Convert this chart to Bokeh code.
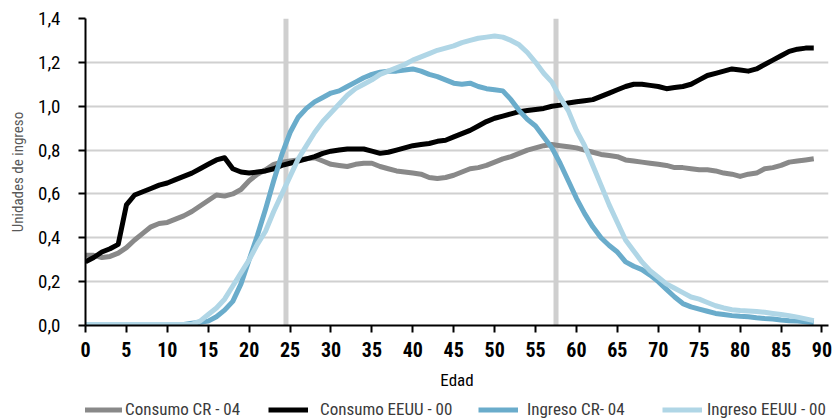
from bokeh.plotting import figure
from bokeh.layouts import column
from bokeh.models import (Range1d, FixedTicker, CustomJSTickFormatter, Span,
                          Legend, LegendItem)
from bokeh.embed import file_html
from bokeh.resources import INLINE

ages = list(range(0, 90))

consumo_cr = [0.32, 0.32, 0.31, 0.315, 0.33, 0.355, 0.39, 0.42, 0.45, 0.465,
              0.47, 0.485, 0.50, 0.52, 0.545, 0.57, 0.595, 0.59, 0.60, 0.62,
              0.66, 0.69, 0.71, 0.735, 0.745, 0.75, 0.755, 0.76, 0.765, 0.75,
              0.735, 0.73, 0.725, 0.735, 0.74, 0.74, 0.725, 0.715, 0.705, 0.70,
              0.695, 0.69, 0.675, 0.67, 0.675, 0.685, 0.70, 0.715, 0.72, 0.73,
              0.745, 0.76, 0.77, 0.785, 0.80, 0.81, 0.82, 0.825, 0.82, 0.815,
              0.81, 0.80, 0.79, 0.78, 0.775, 0.77, 0.755, 0.75, 0.745, 0.74,
              0.735, 0.73, 0.72, 0.72, 0.715, 0.71, 0.71, 0.705, 0.695, 0.69,
              0.68, 0.69, 0.695, 0.715, 0.72, 0.73, 0.745, 0.75, 0.755, 0.76]

consumo_eeuu = [0.29, 0.31, 0.335, 0.35, 0.37, 0.55, 0.595, 0.61, 0.625, 0.64,
                0.65, 0.665, 0.68, 0.695, 0.715, 0.735, 0.755, 0.765, 0.715, 0.70,
                0.695, 0.70, 0.705, 0.715, 0.73, 0.74, 0.75, 0.76, 0.77, 0.785,
                0.795, 0.80, 0.805, 0.805, 0.805, 0.795, 0.785, 0.79, 0.80, 0.81,
                0.82, 0.825, 0.83, 0.84, 0.845, 0.86, 0.875, 0.89, 0.91, 0.93,
                0.945, 0.955, 0.965, 0.975, 0.98, 0.985, 0.99, 1.0, 1.005, 1.015,
                1.02, 1.025, 1.03, 1.045, 1.06, 1.075, 1.09, 1.10, 1.10, 1.095,
                1.09, 1.08, 1.085, 1.09, 1.10, 1.12, 1.14, 1.15, 1.16, 1.17,
                1.165, 1.16, 1.17, 1.19, 1.21, 1.23, 1.25, 1.26, 1.265, 1.265]

ingreso_cr = [0.005, 0.005, 0.005, 0.005, 0.005, 0.005, 0.005, 0.005, 0.005, 0.005,
              0.005, 0.005, 0.005, 0.01, 0.015, 0.02, 0.04, 0.07, 0.11, 0.19,
              0.30, 0.41, 0.53, 0.66, 0.78, 0.88, 0.95, 0.99, 1.02, 1.04,
              1.06, 1.07, 1.09, 1.11, 1.13, 1.145, 1.155, 1.16, 1.16, 1.165,
              1.17, 1.16, 1.145, 1.135, 1.12, 1.105, 1.10, 1.105, 1.09, 1.08,
              1.075, 1.07, 1.03, 0.98, 0.94, 0.91, 0.86, 0.81, 0.74, 0.66,
              0.58, 0.51, 0.45, 0.40, 0.365, 0.335, 0.29, 0.27, 0.255, 0.23,
              0.20, 0.165, 0.13, 0.10, 0.085, 0.075, 0.065, 0.055, 0.05, 0.045,
              0.042, 0.04, 0.035, 0.032, 0.03, 0.025, 0.022, 0.02, 0.017, 0.014]

ingreso_eeuu = [0.005, 0.005, 0.005, 0.005, 0.005, 0.005, 0.005, 0.005, 0.005, 0.005,
                0.005, 0.005, 0.005, 0.005, 0.02, 0.05, 0.08, 0.12, 0.18, 0.24,
                0.30, 0.37, 0.43, 0.52, 0.60, 0.68, 0.76, 0.82, 0.88, 0.93,
                0.97, 1.01, 1.05, 1.08, 1.10, 1.12, 1.145, 1.16, 1.175, 1.19,
                1.21, 1.225, 1.24, 1.255, 1.265, 1.275, 1.29, 1.30, 1.31, 1.315,
                1.32, 1.315, 1.30, 1.28, 1.245, 1.20, 1.15, 1.11, 1.04, 0.98,
                0.89, 0.82, 0.73, 0.64, 0.55, 0.47, 0.39, 0.34, 0.29, 0.25,
                0.22, 0.19, 0.17, 0.15, 0.13, 0.12, 0.105, 0.09, 0.08, 0.072,
                0.068, 0.066, 0.064, 0.06, 0.055, 0.05, 0.045, 0.038, 0.03, 0.022]

series_labels = ["Consumo CR - 04", "Consumo EEUU - 00", "Ingreso CR- 04", "Ingreso EEUU - 00"]
series_colors = ["#898989", "#000000", "#6aaccb", "#b0d6e6"]
x_ticks = list(range(0, 95, 5))
y_ticks = [0.0, 0.2, 0.4, 0.6, 0.8, 1.0, 1.2, 1.4]
marker_ages = [24.5, 57.5]

FONT = "Roboto Condensed"

p = figure(frame_width=743, frame_height=307, output_backend="svg",
           toolbar_location=None, x_range=Range1d(0, 90.8), y_range=Range1d(0, 1.4),
           min_border_left=85, min_border_top=18, min_border_right=7,
           min_border_bottom=75)
p.outline_line_color = None
p.background_fill_color = "white"
p.border_fill_color = "white"

p.xgrid.visible = False
p.ygrid.grid_line_color = "#d0d0d0"
p.ygrid.grid_line_width = 2
p.ygrid.ticker = FixedTicker(ticks=y_ticks)

for a in marker_ages:
    p.add_layout(Span(location=a, dimension="height", line_color="#cfcfcf",
                      line_width=5, level="underlay"))

series = [consumo_cr, consumo_eeuu, ingreso_cr, ingreso_eeuu]
for vals, col in zip(series, series_colors):
    p.line(ages, vals, line_color=col, line_width=5, line_join="round")

# axes
p.xaxis.ticker = FixedTicker(ticks=x_ticks)
p.xaxis.axis_line_color = "black"
p.xaxis.axis_line_width = 2
p.xaxis.major_tick_line_color = "black"
p.xaxis.major_tick_line_width = 2
p.xaxis.major_tick_out = 7
p.xaxis.major_tick_in = 0
p.xaxis.minor_tick_line_color = None
p.xaxis.major_label_text_font = FONT
p.xaxis.major_label_text_font_style = "bold"
p.xaxis.major_label_text_font_size = "20px"
p.xaxis.major_label_text_color = "black"
p.xaxis.major_label_standoff = 9
p.xaxis.axis_label = "Edad"
p.xaxis.axis_label_text_font = FONT
p.xaxis.axis_label_text_font_style = "normal"
p.xaxis.axis_label_text_font_size = "17px"
p.xaxis.axis_label_text_color = "black"
p.xaxis.axis_label_standoff = 10

p.yaxis.ticker = FixedTicker(ticks=y_ticks)
p.yaxis.formatter = CustomJSTickFormatter(code="return tick.toFixed(1).replace('.', ',');")
p.yaxis.axis_line_color = "black"
p.yaxis.axis_line_width = 2
p.yaxis.major_tick_line_color = "black"
p.yaxis.major_tick_line_width = 2
p.yaxis.major_tick_out = 7
p.yaxis.major_tick_in = 0
p.yaxis.minor_tick_line_color = None
p.yaxis.major_label_text_font = FONT
p.yaxis.major_label_text_font_size = "19px"
p.yaxis.major_label_text_color = "black"
p.yaxis.major_label_standoff = 18
p.yaxis.axis_label = "Unidades de ingreso"
p.yaxis.axis_label_text_font = FONT
p.yaxis.axis_label_text_font_style = "normal"
p.yaxis.axis_label_text_font_size = "15px"
p.yaxis.axis_label_text_color = "#595959"
p.yaxis.axis_label_standoff = 8

# legend strip: a second figure whose own lines fall outside its view,
# used only to carry the legend entries
leg = figure(width=835, height=19, output_backend="svg", toolbar_location=None,
             x_range=Range1d(1000, 1001), y_range=Range1d(0, 1.4),
             x_axis_location=None, y_axis_location=None,
             min_border_left=0, min_border_right=0, min_border_top=0,
             min_border_bottom=0)
leg.outline_line_color = None
leg.grid.visible = False
leg_renderers = [leg.line(ages, vals, line_color=col, line_width=5)
                 for vals, col in zip(series, series_colors)]

legend_pos = [(-3, 3), (183, 12), (393, 9), (577, 5)]
for lab, r, (lx, st) in zip(series_labels, leg_renderers, legend_pos):
    lg = Legend(items=[LegendItem(label=lab, renderers=[r])], location=(lx, 0),
                orientation="horizontal", glyph_width=40, glyph_height=19,
                label_height=19, label_standoff=st, padding=0, margin=0,
                border_line_alpha=0, background_fill_alpha=0,
                label_text_font=FONT, label_text_font_size="17px",
                label_text_color="#3a3a3a")
    leg.add_layout(lg, "center")

layout = column(p, leg, spacing=0)
open("out.html", "w").write(file_html(layout, INLINE))
